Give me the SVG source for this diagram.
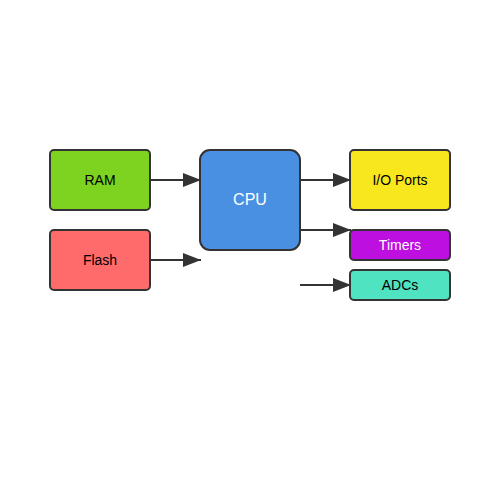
<svg xmlns="http://www.w3.org/2000/svg" width="500" height="500" viewBox="0 0 500 500">
<style>
.box{stroke:#333;stroke-width:2}
.lbl{font-family:"Liberation Sans",Arial,sans-serif;font-size:14px;text-anchor:middle;dominant-baseline:central;fill:#000}
.wl{fill:#fff}
.conn line{stroke:#333;stroke-width:2;marker-end:url(#ah)}
</style>
<defs>
<marker id="ah" markerWidth="18" markerHeight="14" refX="18" refY="7" orient="auto" markerUnits="userSpaceOnUse">
<path d="M0,0 L18,7 L0,14 Z" fill="#333"/>
</marker>
</defs>
<rect width="500" height="500" fill="#fff"/>
<g id="ram"><rect class="box" x="50" y="150" width="100" height="60" rx="4" fill="#7ED321"/><text class="lbl" x="100" y="180">RAM</text></g>
<g id="flash"><rect class="box" x="50" y="230" width="100" height="60" rx="4" fill="#FF6B6B"/><text class="lbl" x="100" y="260">Flash</text></g>
<g id="cpu"><rect class="box" x="200" y="150" width="100" height="100" rx="10" fill="#4A90E2"/><text class="lbl wl" x="250" y="199" style="font-size:16px">CPU</text></g>
<g id="io"><rect class="box" x="350" y="150" width="100" height="60" rx="4" fill="#F8E71C"/><text class="lbl" x="400" y="180">I/O Ports</text></g>
<g id="timers"><rect class="box" x="350" y="230" width="100" height="30" rx="4" fill="#BD10E0"/><text class="lbl wl" x="400" y="245">Timers</text></g>
<g id="adcs"><rect class="box" x="350" y="270" width="100" height="30" rx="4" fill="#50E3C2"/><text class="lbl" x="400" y="285">ADCs</text></g>
<g class="conn" id="connectors">
<line x1="150" y1="180" x2="201" y2="180"/>
<line x1="150" y1="260" x2="201" y2="260"/>
<line x1="300" y1="180" x2="351" y2="180"/>
<line x1="300" y1="230" x2="351" y2="230"/>
<line x1="300" y1="285" x2="351" y2="285"/>
</g>
</svg>
